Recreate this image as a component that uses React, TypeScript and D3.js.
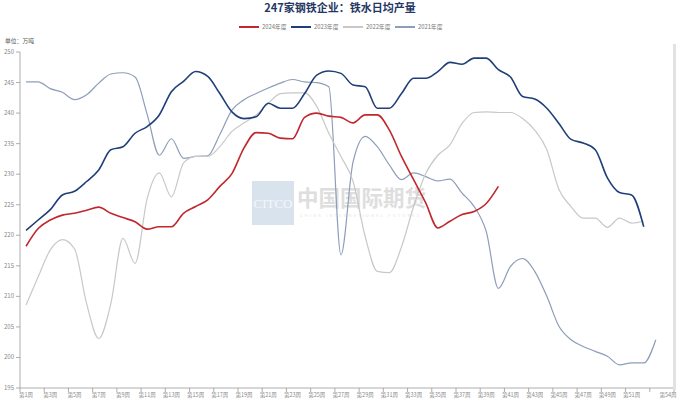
import React from "react";
import * as d3 from "d3";

const weeks: string[] = Array.from({ length: 54 }, (_, i) => `第${i + 1}周`);
const shownLabels: string[] = [
  "第1周","第3周","第5周","第7周","第9周","第11周","第13周","第15周","第17周","第19周","第21周","第23周","第25周",
  "第27周","第29周","第31周","第33周","第35周","第37周","第39周","第41周","第43周","第45周","第47周","第49周","第51周","第54周",
];
const yTicks: number[] = [195, 200, 205, 210, 215, 220, 225, 230, 235, 240, 245, 250];

const s2024: number[] = [
  218.2, 221.1, 222.5, 223.3, 223.6, 224.1, 224.6, 223.6, 222.9, 222.2,
  221.0, 221.4, 221.4, 223.6, 224.7, 225.8, 228.0, 230.1, 234.3, 236.8,
  236.7, 235.9, 235.8, 239.3, 240.0, 239.5, 239.3, 238.4, 239.7, 239.7,
  237.2, 232.9, 229.1, 225.3, 221.2, 222.3, 223.4, 223.9, 225.2, 228.0,
];
const s2023: number[] = [
  220.8, 222.5, 224.2, 226.6, 227.2, 228.8, 230.7, 234.0, 234.5, 236.7,
  237.8, 239.7, 243.5, 245.2, 246.8, 246.0, 243.2, 240.2, 239.1, 239.4,
  241.6, 240.8, 240.8, 243.2, 246.2, 246.9, 246.5, 244.6, 244.3, 240.8,
  240.8, 243.2, 245.7, 245.7, 246.8, 248.3, 248.0, 249.0, 249.0, 247.1,
  245.9, 242.7, 242.3, 240.8, 238.3, 235.7, 235.1, 234.0, 229.4, 227.0,
  226.6, 221.4,
];
const s2022: number[] = [
  208.6, 213.2, 217.6, 219.3, 217.8, 208.8, 203.1, 208.8, 219.5, 215.4,
  226.0, 230.2, 226.3, 231.8, 232.9, 232.9, 234.5, 237.0, 238.4, 239.7,
  241.6, 243.2, 243.3, 243.3, 241.1, 236.7, 232.9, 228.8, 219.8, 214.1,
  213.9, 218.1, 224.7, 230.1, 233.1, 234.8, 238.3, 240.1, 240.2, 240.1,
  240.1, 239.1, 237.2, 234.0, 227.5, 224.7, 222.8, 222.8, 221.3, 222.8,
  222.0, 222.3,
];
const s2021: number[] = [
  245.1, 245.1, 244.0, 243.4, 242.2, 243.0, 244.9, 246.4, 246.6, 245.9,
  239.8, 233.1, 235.8, 232.6, 232.9, 233.0, 236.5, 240.5, 242.2, 243.2,
  244.1, 244.9, 245.5, 245.1, 245.0, 244.3, 216.8, 232.0, 236.2, 234.5,
  231.5, 229.1, 230.2, 229.6, 228.9, 229.2, 226.9, 224.7, 220.6, 211.3,
  214.9, 216.2, 214.1, 210.0, 205.1, 202.9, 201.8, 201.0, 200.2, 198.8,
  199.1, 199.1, 202.9,
];

const seriesNames: string[] = ["2024年度", "2023年度", "2022年度", "2021年度"];
const seriesColors: string[] = ["#c0282d", "#1f3f78", "#c8c8c8", "#8d9dba"];
const seriesWidths: number[] = [1.6, 1.6, 1.2, 1.2];
const seriesData: number[][] = [s2024, s2023, s2022, s2021];

const W = 680;
const H = 404;
const FONT = "'Noto Sans CJK SC', 'Noto Sans', sans-serif";

export default function App() {
  const x = d3.scaleBand<string>().domain(weeks).range([20, 674]).padding(0);
  const bw = x.bandwidth();
  const y = d3.scaleLinear().domain([195, 250]).range([388, 52]);
  const cx = (i: number) => (x(weeks[i]) as number) + bw / 2;

  const line = d3
    .line<number>()
    .x((_, i) => cx(i))
    .y((v) => y(v))
    .curve(d3.curveMonotoneX);

  const tickIdx = d3.range(0, 54, 2);
  const tickXs = tickIdx.map((i) => x(weeks[i]) as number).concat([674]);

  const legendX = [239, 291, 343, 395];

  return (
    <svg
      width={W}
      height={H}
      style={{ position: "absolute", left: 0, top: 0, background: "#fff" }}
      fontFamily={FONT}
    >
      <rect x={0} y={0} width={W} height={H} fill="#fff" />
      {/* title */}
      <text x={340} y={12} textAnchor="middle" fontSize={11} fontWeight="bold" fill="#1f3864">
        247家钢铁企业：铁水日均产量
      </text>
      {/* legend */}
      {seriesNames.map((n, i) => (
        <g key={n}>
          <line x1={legendX[i]} x2={legendX[i] + 20} y1={27} y2={27} stroke={seriesColors[i]} strokeWidth={2} />
          <text x={legendX[i] + 23} y={29} fontSize={5.8} fill="#777">{n}</text>
        </g>
      ))}
      {/* unit */}
      <text x={5} y={43} fontSize={5.8} fill="#555">单位：万吨</text>

      {/* watermark */}
      <g opacity={0.85}>
        <rect x={252} y={181} width={42} height={44} fill="#d3dfec" />
        <text x={273} y={208} textAnchor="middle" fontSize={13} fontFamily="'Liberation Serif', serif" fill="#f3f6fa">CITCO</text>
        <text x={297} y={206} fontSize={21.5} fill="#d9d9d9" fontWeight="bold">中国国际期货</text>
        <text x={300} y={216.5} fontSize={4} fill="#dddddd" letterSpacing={2.2}>CHINA INTERNATIONAL FUTURES</text>
      </g>

      {/* y axis */}
      <line x1={20} x2={20} y1={52} y2={388} stroke="#999" strokeWidth={0.8} />
      {yTicks.map((t) => (
        <g key={t}>
          <line x1={16} x2={20} y1={y(t)} y2={y(t)} stroke="#999" strokeWidth={0.8} />
          <text x={14} y={y(t) + 2} textAnchor="end" fontSize={6} fill="#888">{t}</text>
        </g>
      ))}
      {/* x axis */}
      <line x1={20} x2={674} y1={388} y2={388} stroke="#999" strokeWidth={0.8} />
      {tickXs.map((tx, i) => (
        <line key={i} x1={tx} x2={tx} y1={388} y2={392} stroke="#999" strokeWidth={0.8} />
      ))}
      {shownLabels.map((l) => (
        <text key={l} x={(x(l) as number) + bw / 2} y={397} textAnchor="middle" fontSize={5.5} fill="#888">{l}</text>
      ))}
      {/* right edge bar */}
      <rect x={673} y={44} width={3} height={346} fill="#e2e2e2" />

      {/* series (draw older first) */}
      {[3, 2, 1, 0].map((si) => (
        <path
          key={si}
          d={line(seriesData[si]) as string}
          fill="none"
          stroke={seriesColors[si]}
          strokeWidth={seriesWidths[si]}
          strokeLinejoin="round"
        />
      ))}
    </svg>
  );
}
